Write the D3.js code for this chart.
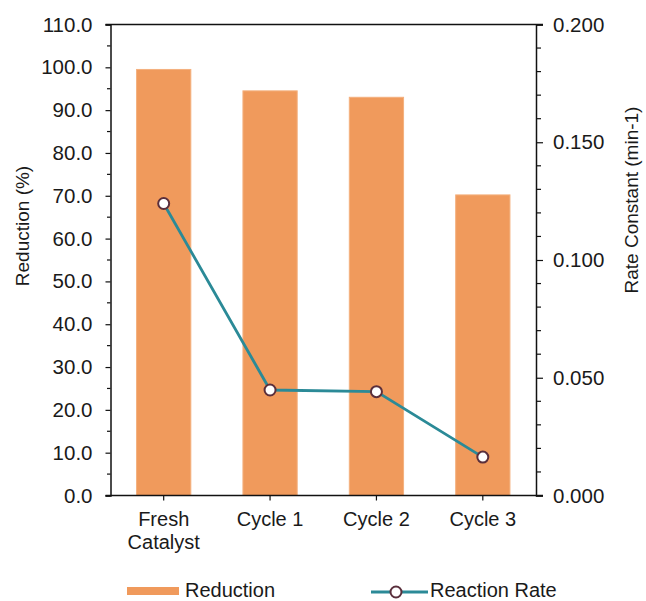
<!DOCTYPE html>
<html>
<head>
<meta charset="utf-8">
<script src="https://cdn.jsdelivr.net/npm/d3@7"></script>
<style>
  html, body { margin: 0; padding: 0; background: #ffffff; }
  svg { display: block; font-family: "Liberation Sans", Arial, sans-serif; }
</style>
</head>
<body>
<svg id="chart" width="646" height="601"></svg>
<script>
const categories = ["Fresh\nCatalyst", "Cycle 1", "Cycle 2", "Cycle 3"];
const reduction = [99.5, 94.5, 93.0, 70.2];
const rateConstant = [0.124, 0.0448, 0.0441, 0.0163];
const leftTicks = [0, 10, 20, 30, 40, 50, 60, 70, 80, 90, 100, 110];
const leftMinor = [5, 15, 25, 35, 45, 55, 65, 75, 85, 95, 105];
const rightTicks = [0, 0.05, 0.1, 0.15, 0.2];
const rightMinor = [0.01, 0.02, 0.03, 0.04, 0.06, 0.07, 0.08, 0.09, 0.11, 0.12, 0.13, 0.14, 0.16, 0.17, 0.18, 0.19];
const seriesNames = ["Reduction", "Reaction Rate"];

const svg = d3.select("#chart");
const m = { left: 110.5, right: 536, top: 24.5, bottom: 495.5 };
const tickFont = 20.5;
const labelFont = 20;
const titleFont = 19;
const textColor = "#1a1a1a";
const barColor = "#F09A5C";
const lineColor = "#2B8A97";
const markerStroke = "#5a2f3c";

const x = d3.scaleBand().domain(categories).range([m.left, m.right]).paddingInner(0.49).paddingOuter(0.245);
const yL = d3.scaleLinear().domain([0, 110]).range([m.bottom, m.top]);
const yR = d3.scaleLinear().domain([0, 0.2]).range([m.bottom, m.top]);

// bars
svg.append("g").selectAll("rect").data(reduction).join("rect")
  .attr("x", (d, i) => x(categories[i]))
  .attr("y", d => yL(d))
  .attr("width", x.bandwidth())
  .attr("height", d => yL(0) - yL(d))
  .attr("fill", barColor)
  .attr("stroke", "#F4B07E")
  .attr("stroke-width", 1);

// top border
svg.append("line").attr("x1", m.left - 5).attr("x2", m.right + 7)
  .attr("y1", m.top).attr("y2", m.top).attr("stroke", "#111").attr("stroke-width", 1.5);

// left axis
const gL = svg.append("g").attr("transform", `translate(${m.left},0)`)
  .call(d3.axisLeft(yL).tickValues(leftTicks).tickFormat(d3.format(".1f")).tickSize(5).tickPadding(13));
gL.selectAll(".tick text").attr("font-size", tickFont).attr("fill", textColor).attr("font-family", "Liberation Sans, Arial, sans-serif");
gL.select(".domain").attr("stroke", "#111").attr("stroke-width", 1.5);
gL.selectAll(".tick line").attr("stroke", "#111").attr("stroke-width", 1.2);
svg.append("g").attr("transform", `translate(${m.left},0)`).selectAll("line").data(leftMinor).join("line")
  .attr("x1", -3.5).attr("x2", 0).attr("y1", d => yL(d)).attr("y2", d => yL(d))
  .attr("stroke", "#111").attr("stroke-width", 1.2);

// right axis
const gR = svg.append("g").attr("transform", `translate(${m.right},0)`)
  .call(d3.axisRight(yR).tickValues(rightTicks).tickFormat(d3.format(".3f")).tickSize(7).tickPadding(10));
gR.selectAll(".tick text").attr("font-size", tickFont).attr("fill", textColor).attr("font-family", "Liberation Sans, Arial, sans-serif");
gR.select(".domain").attr("stroke", "#111").attr("stroke-width", 1.5);
gR.selectAll(".tick line").attr("stroke", "#111").attr("stroke-width", 1.2);
svg.append("g").attr("transform", `translate(${m.right},0)`).selectAll("line").data(rightMinor).join("line")
  .attr("x1", 0).attr("x2", 5).attr("y1", d => yR(d)).attr("y2", d => yR(d))
  .attr("stroke", "#111").attr("stroke-width", 1.2);

// bottom axis
const gB = svg.append("g").attr("transform", `translate(0,${m.bottom})`)
  .call(d3.axisBottom(x).tickSize(5).tickSizeOuter(0).tickFormat(""));
gB.select(".domain").remove();
gB.selectAll(".tick line").attr("stroke", "#111").attr("stroke-width", 1.2);
svg.append("line").attr("x1", m.left - 5).attr("x2", m.right + 7)
  .attr("y1", m.bottom).attr("y2", m.bottom).attr("stroke", "#111").attr("stroke-width", 1.5);

const xl = svg.append("g");
categories.forEach(c => {
  const lines = c.split("\n");
  const t = xl.append("text").attr("text-anchor", "middle")
    .attr("font-size", labelFont).attr("fill", textColor)
    .attr("x", x(c) + x.bandwidth() / 2).attr("y", m.bottom + 30);
  lines.forEach((l, j) => t.append("tspan").attr("x", x(c) + x.bandwidth() / 2).attr("dy", j === 0 ? 0 : 23).text(l));
});

// axis titles
svg.append("text").attr("transform", "translate(29,226) rotate(-90)").attr("text-anchor", "middle")
  .attr("font-size", titleFont).attr("fill", textColor).text("Reduction (%)");
svg.append("text").attr("transform", "translate(638,200) rotate(-90)").attr("text-anchor", "middle")
  .attr("font-size", titleFont).attr("fill", textColor).text("Rate Constant (min-1)");

// line
const cx = i => x(categories[i]) + x.bandwidth() / 2;
const line = d3.line().x((d, i) => cx(i)).y(d => yR(d));
svg.append("path").datum(rateConstant).attr("d", line)
  .attr("fill", "none").attr("stroke", lineColor).attr("stroke-width", 2.8);
svg.append("g").selectAll("circle").data(rateConstant).join("circle")
  .attr("cx", (d, i) => cx(i)).attr("cy", d => yR(d)).attr("r", 5.5)
  .attr("fill", "#ffffff").attr("stroke", markerStroke).attr("stroke-width", 2);

// legend
const lg = svg.append("g");
lg.append("rect").attr("x", 127).attr("y", 587).attr("width", 52).attr("height", 8).attr("fill", barColor);
lg.append("text").attr("x", 185).attr("y", 597).attr("font-size", labelFont).attr("fill", textColor).text(seriesNames[0]);
lg.append("line").attr("x1", 371).attr("x2", 428).attr("y1", 592).attr("y2", 592).attr("stroke", lineColor).attr("stroke-width", 2.8);
lg.append("circle").attr("cx", 396).attr("cy", 592).attr("r", 5.5).attr("fill", "#fff").attr("stroke", markerStroke).attr("stroke-width", 2);
lg.append("text").attr("x", 430).attr("y", 597).attr("font-size", labelFont).attr("fill", textColor).text(seriesNames[1]);
</script>
</body>
</html>
